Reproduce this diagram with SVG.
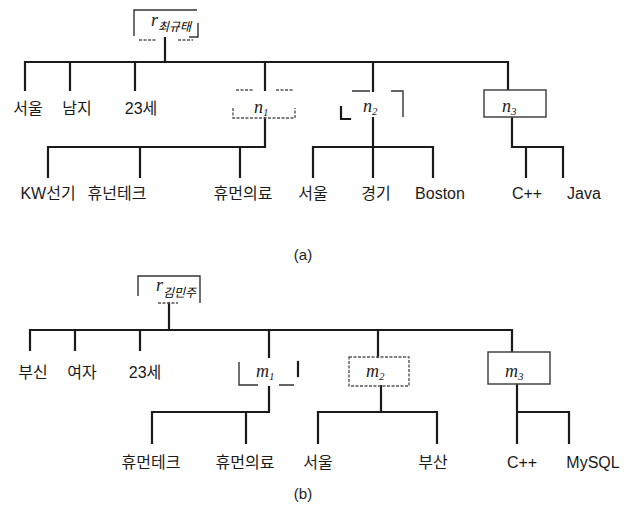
<svg xmlns="http://www.w3.org/2000/svg" width="632" height="514" viewBox="0 0 632 514">
<style>
.ln{stroke:#1a1a1a;stroke-width:2.2;fill:none;stroke-linecap:square}
.thin{stroke:#333;stroke-width:1.4;fill:none}
.dash{stroke:#555;stroke-width:1.4;fill:none;stroke-dasharray:3 1.5}
.box{stroke:#444;stroke-width:1.5;fill:#fff}
.lbl{font-family:"Liberation Sans","Noto Sans CJK KR",sans-serif;font-size:16px;fill:#1a1a1a;text-anchor:middle}
.var{font-family:"Liberation Serif","Noto Sans CJK KR",serif;font-style:italic;font-size:18px;fill:#222}
.sub{font-size:11px}
.rsub{font-family:"Noto Sans CJK KR",sans-serif;font-style:italic;font-size:12px}
.cap{font-family:"Liberation Sans",sans-serif;font-size:15px;fill:#222;text-anchor:middle}
</style>
<g id="connectors">
<path class="ln" d="M165 38V62M25 62H508M25 62V90M70 62V90M135 62V90M265 62V90M373 62V91M508 62V90"/>
<path class="ln" d="M265 118V147H48M48 147V177M140 147V177M240 147V177"/>
<path class="ln" d="M373 118V147M313 147H433M313 147V177M373 147V177M433 147V177"/>
<path class="ln" d="M512 117V147H563M526 147V177M563 147V177"/>
<path class="ln" d="M169 303V330M30 330H512M30 330V350M75 330V350M140 330V350M269 330V357M378 330V357M512 330V352"/>
<path class="ln" d="M269 387V412H152M152 412V443M246 412V443"/>
<path class="ln" d="M381 386V412M318 412H437M318 412V443M437 412V443"/>
<path class="ln" d="M517 384V412H569M517 412V443M569 412V443"/>
</g>
<g id="root-a">
<path class="thin" d="M134 36V10H197"/>
<path class="thin" d="M189 37H198V23"/>
<path class="dash" d="M139 40H157M178 40H193"/>
<text x="151" y="26" class="var" font-size="15">r</text><text x="158" y="31" class="rsub">최규태</text>
</g>
<g id="a-seoul"><text x="28" y="114" class="lbl">서울</text></g>
<g id="a-namji"><text x="77" y="114" class="lbl">남지</text></g>
<g id="a-23"><text x="141" y="114" class="lbl">23세</text></g>
<g id="n1">
<path class="dash" d="M236 90H253M276 90H293"/>
<path class="dash" d="M233 108V118H295V108"/>
<text x="254" y="113" class="var">n<tspan dy="3" class="sub">1</tspan></text>
</g>
<g id="n2">
<path class="thin" d="M352 91H370M391 91H403V117"/>
<path class="ln" d="M341 107V119H350"/>
<text x="363" y="112" class="var">n<tspan dy="3" class="sub">2</tspan></text>
</g>
<g id="n3">
<rect class="box" x="484" y="90" width="62" height="27"/>
<text x="502" y="112" class="var">n<tspan dy="3" class="sub">3</tspan></text>
</g>
<g id="a-kw"><text x="48" y="199" class="lbl">KW선기</text></g>
<g id="a-humantech"><text x="117" y="199" class="lbl">휴넌테크</text></g>
<g id="a-humanmed"><text x="243" y="199" class="lbl">휴먼의료</text></g>
<g id="a-seoul2"><text x="313" y="199" class="lbl">서울</text></g>
<g id="a-gyeonggi"><text x="376" y="199" class="lbl">경기</text></g>
<g id="a-boston"><text x="440" y="199" class="lbl">Boston</text></g>
<g id="a-cpp"><text x="527" y="199" class="lbl">C++</text></g>
<g id="a-java"><text x="584" y="199" class="lbl">Java</text></g>
<g id="cap-a"><text x="303" y="260" class="cap">(a)</text></g>

<g id="root-b">
<path class="thin" d="M138 296V276H200V303"/>
<path class="dash" d="M158 303H178"/>
<text x="156" y="291" class="var" font-size="15">r</text><text x="163" y="297" class="rsub">김민주</text>
</g>
<g id="b-busin"><text x="33" y="378" class="lbl">부신</text></g>
<g id="b-yeoja"><text x="82" y="378" class="lbl">여자</text></g>
<g id="b-23"><text x="145" y="378" class="lbl">23세</text></g>
<g id="m1">
<path class="thin" d="M239 362V385H258M279 385H294"/>
<path class="ln" d="M298 362V376"/>
<text x="256" y="377" class="var">m<tspan dy="3" class="sub">1</tspan></text>
</g>
<g id="m2">
<rect class="dash" x="349" y="357" width="60" height="29"/>
<text x="366" y="377" class="var">m<tspan dy="3" class="sub">2</tspan></text>
</g>
<g id="m3">
<rect class="box" x="488" y="352" width="62" height="32"/>
<text x="505" y="377" class="var">m<tspan dy="3" class="sub">3</tspan></text>
</g>
<g id="b-humantech"><text x="151" y="468" class="lbl">휴먼테크</text></g>
<g id="b-humanmed"><text x="245" y="468" class="lbl">휴먼의료</text></g>
<g id="b-seoul"><text x="318" y="468" class="lbl">서울</text></g>
<g id="b-busan"><text x="433" y="468" class="lbl">부산</text></g>
<g id="b-cpp"><text x="522" y="468" class="lbl">C++</text></g>
<g id="b-mysql"><text x="593" y="468" class="lbl">MySQL</text></g>
<g id="cap-b"><text x="303" y="499" class="cap">(b)</text></g>
</svg>
